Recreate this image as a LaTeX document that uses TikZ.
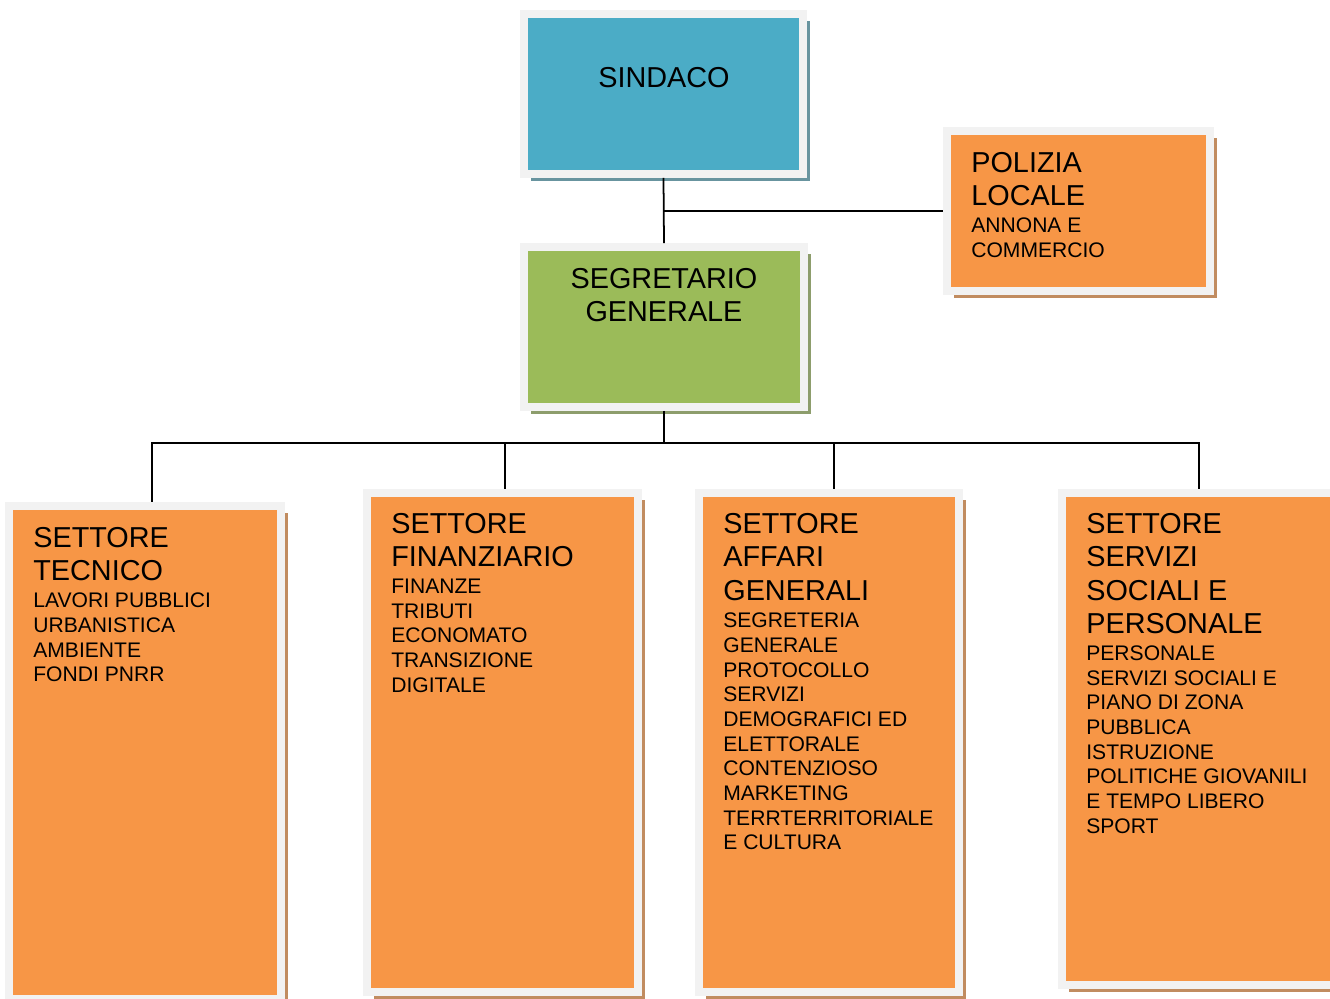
\documentclass[tikz,border=0pt]{standalone}
\usepackage{fontspec}
\setmainfont{Liberation Sans}
\usetikzlibrary{positioning, shadows}
\definecolor{sindacoblue}{HTML}{4BACC6}
\definecolor{segrgreen}{HTML}{9BBB59}
\definecolor{settoreorange}{HTML}{F79646}
\definecolor{framegray}{HTML}{F2F2F2}
\newcommand{\boxtitle}{\fontsize{16.4}{19}\selectfont}
\tikzset{
  orgbox/.style={rectangle, draw=framegray, line width=0.16cm, inner sep=0pt},
  bluebox/.style={orgbox, fill=sindacoblue,
              drop shadow={shadow xshift=0.14cm, shadow yshift=-0.14cm, fill=sindacoblue!45!gray, opacity=1}},
  greenbox/.style={orgbox, fill=segrgreen,
              drop shadow={shadow xshift=0.14cm, shadow yshift=-0.14cm, fill=segrgreen!50!gray, opacity=1}},
  orangebox/.style={orgbox, fill=settoreorange,
              drop shadow={shadow xshift=0.14cm, shadow yshift=-0.14cm, fill=settoreorange!55!gray, opacity=1}},
  boxtext/.style={inner sep=0pt, align=left, anchor=north west, font=\fontsize{12}{14.05}\selectfont},
  link/.style={draw=black, line width=1pt},
}
\begin{document}
\begin{tikzpicture}[x=0.02cm, y=-0.02cm]
  \useasboundingbox (0,0) rectangle (1330,999);
  % top level
  \node[bluebox, minimum width=5.6cm, minimum height=3.2cm] (sindaco) at (663.5,94) {};
  \node[greenbox, minimum width=5.6cm, minimum height=3.2cm] (segretario) at (664,327) {};
  \node[orangebox, minimum width=5.26cm, minimum height=3.2cm] (polizia) at (1078.5,211) {};
  % settori
  \node[orangebox, minimum width=5.44cm, minimum height=9.86cm] (tecnico) at (145,752.5) {};
  \node[orangebox, minimum width=5.42cm, minimum height=9.98cm] (finanziario) at (502.5,742.5) {};
  \node[orangebox, minimum width=5.2cm, minimum height=9.98cm] (affari) at (829,742.5) {};
  \node[orangebox, minimum width=5.56cm, minimum height=9.84cm] (servizi) at (1201,739) {};

  % texts
  \node[inner sep=0pt, font=\boxtitle] (sindaco-text) at (664,78) {SINDACO};
  \node[inner sep=0pt, align=center, font=\boxtitle] (segretario-text) at (664,295) {SEGRETARIO\\GENERALE};
  \node[boxtext] (polizia-text) at (971,152)
    {{\boxtitle POLIZIA}\\[5pt]{\boxtitle LOCALE}\\[1pt]ANNONA E\\COMMERCIO};
  \node[boxtext] (tecnico-text) at (33,527)
    {{\boxtitle SETTORE}\\[5pt]{\boxtitle TECNICO}\\[1.2pt]LAVORI PUBBLICI\\URBANISTICA\\AMBIENTE\\FONDI PNRR};
  \node[boxtext] (finanziario-text) at (391,513)
    {{\boxtitle SETTORE}\\[5pt]{\boxtitle FINANZIARIO}\\[1pt]FINANZE\\TRIBUTI\\ECONOMATO\\TRANSIZIONE\\DIGITALE};
  \node[boxtext] (affari-text) at (723,513)
    {{\boxtitle SETTORE}\\[5pt]{\boxtitle AFFARI}\\[5pt]{\boxtitle GENERALI}\\[1.5pt]SEGRETERIA\\GENERALE\\PROTOCOLLO\\SERVIZI\\DEMOGRAFICI ED\\ELETTORALE\\CONTENZIOSO\\MARKETING\\TERRTERRITORIALE\\E CULTURA};
  \node[boxtext] (servizi-text) at (1086,513)
    {{\boxtitle SETTORE}\\[5pt]{\boxtitle SERVIZI}\\[5pt]{\boxtitle SOCIALI E}\\[5pt]{\boxtitle PERSONALE}\\[1pt]PERSONALE\\SERVIZI SOCIALI E\\PIANO DI ZONA\\PUBBLICA\\ISTRUZIONE\\POLITICHE GIOVANILI\\E TEMPO LIBERO\\SPORT};

  % connectors
  \coordinate (bus) at (664,443);
  \draw[link] (sindaco.south) -- (segretario.north);
  \draw[link] (sindaco.south |- polizia.west) -- (polizia.west);
  \draw[link] (segretario.south) -- (bus);
  \draw[link] (bus) -| ([xshift=0.14cm]tecnico.north);
  \draw[link] (bus) -| ([xshift=0.05cm]finanziario.north);
  \draw[link] (bus) -| ([xshift=0.1cm]affari.north);
  \draw[link] (bus) -| ([xshift=-0.04cm]servizi.north);
\end{tikzpicture}
\end{document}
